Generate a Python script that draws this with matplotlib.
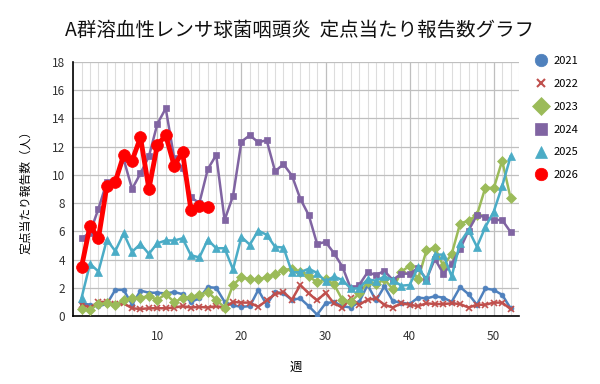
import numpy as np
import matplotlib
matplotlib.use("Agg")
import matplotlib.pyplot as plt
from matplotlib.lines import Line2D
from matplotlib.ticker import MultipleLocator

plt.rcParams['font.family'] = ['Noto Sans CJK JP', 'DejaVu Sans']

# DATA (週ごとの定点当たり報告数)
y2021 = [0.9, 0.8, 0.7, 0.85, 1.85, 1.85, 0.8, 1.8, 1.65, 1.65, 1.6, 1.7, 1.55, 1.0, 1.25, 2.05, 2.0,
         1.0, 0.75, 0.65, 0.7, 1.85, 0.8, 1.7, 1.6, 1.15, 1.25, 0.7, 0.1, 0.9, 1.0, 0.7, 0.6,
         1.0, 2.2, 1.1, 2.1, 1.05, 0.95, 0.85, 1.3, 1.25, 1.4, 1.3, 1.0, 2.05, 1.55, 0.8, 1.95, 1.85, 1.5, 0.55]
y2022 = [0.8, 0.6, 1.0, 1.0, 0.85, 0.9, 0.55, 0.5, 0.55, 0.55, 0.55, 0.6, 0.7, 0.6, 0.65, 0.6, 0.7,
         0.6, 1.0, 0.95, 0.95, 0.65, 1.1, 1.55, 1.7, 1.15, 2.2, 1.6, 1.1, 1.65, 0.9, 0.6, 1.25,
         0.8, 1.15, 1.25, 0.8, 0.6, 0.9, 0.8, 0.7, 0.9, 0.85, 0.85, 0.9, 0.85, 0.6, 0.8, 0.8, 0.95, 0.95, 0.5]
y2023 = [0.5, 0.45, 0.85, 0.9, 0.8, 1.1, 1.25, 1.3, 1.4, 1.15, 1.55, 1.0, 1.25, 1.35, 1.5, 1.7, 1.15,
         0.6, 2.2, 2.75, 2.6, 2.6, 2.75, 2.95, 3.25, 3.35, 3.1, 2.8, 2.4, 2.6, 2.25, 1.15, 1.0,
         1.6, 2.4, 2.25, 2.6, 1.9, 3.15, 3.55, 2.6, 4.65, 4.85, 3.55, 4.4, 6.55, 6.75, 7.15, 9.1, 9.05, 11.0, 8.35]
y2024 = [5.5, 5.9, 7.6, 9.5, 9.55, 11.1, 9.0, 10.1, 11.3, 13.6, 14.7, 11.2, 10.5, 8.4, 8.0, 10.4, 11.4,
         6.8, 8.5, 12.35, 12.8, 12.3, 12.45, 10.25, 10.75, 9.95, 8.3, 7.15, 5.1, 5.25, 4.45, 3.5, 1.95,
         2.2, 3.1, 2.9, 3.2, 2.55, 3.0, 3.0, 3.4, 2.6, 4.05, 3.0, 3.7, 4.75, 6.05, 7.15, 7.0, 6.8, 6.8, 5.95]
y2025 = [1.3, 3.7, 3.15, 5.4, 4.6, 5.85, 4.55, 5.1, 4.4, 5.15, 5.35, 5.35, 5.5, 4.3, 4.15, 5.4, 4.8,
         4.8, 3.3, 5.6, 5.05, 6.05, 5.75, 4.9, 4.85, 3.1, 3.1, 3.35, 3.05, 2.45, 2.8, 2.55, 1.95,
         1.95, 2.6, 2.5, 2.8, 2.55, 2.15, 2.2, 3.45, 2.55, 4.35, 4.35, 2.8, 5.2, 6.1, 4.9, 6.3, 7.4, 9.2, 11.3]
y2026 = [3.5, 6.4, 5.5, 9.2, 9.5, 11.4, 11.0, 12.65, 9.0, 12.1, 12.8, 10.65, 11.6, 7.5, 7.8, 7.7]

years = ['2021', '2022', '2023', '2024', '2025', '2026']
series = [y2021, y2022, y2023, y2024, y2025, y2026]
colors = ['#4F81BD', '#C0504D', '#9BBB59', '#8064A2', '#4BACC6', '#FF0000']
markers = ['o', 'x', 'D', 's', '^', 'o']
msizes = [3.5, 4, 5.5, 5, 6, 8.5]
lwidths = [1.8, 1.8, 1.8, 1.8, 1.8, 3.5]

fig = plt.figure(figsize=(6, 3.84), dpi=100)
ax = fig.add_axes([0.122, 0.177, 0.743, 0.662])

for name, vals, c, m, ms, lw in zip(years, series, colors, markers, msizes, lwidths):
    weeks = np.arange(1, len(vals) + 1)
    ax.plot(weeks, vals, color=c, marker=m, markersize=ms, linewidth=lw,
            markeredgewidth=1.2 if m == 'x' else 0.5, markeredgecolor=c, zorder=3)

ax.set_xlim(0, 53)
ax.set_ylim(0, 18)
ax.set_xticks([10, 20, 30, 40, 50])
ax.xaxis.set_minor_locator(MultipleLocator(1))
ax.yaxis.set_major_locator(MultipleLocator(2))
ax.grid(which='major', axis='both', color='#BFBFBF', linewidth=0.9, zorder=0)
ax.grid(which='minor', axis='x', color='#DDDDDD', linewidth=0.8, zorder=0)
ax.set_axisbelow(True)
ax.tick_params(which='both', length=0)
ax.tick_params(axis='x', pad=10, labelsize=8.5, colors='#333333')
ax.tick_params(axis='y', pad=6, labelsize=8.5, colors='#333333')
for s in ['top', 'right']:
    ax.spines[s].set_visible(False)
for s in ['left', 'bottom']:
    ax.spines[s].set_color('black')
    ax.spines[s].set_linewidth(1.2)

ax.set_xlabel('週', fontsize=9, labelpad=13)
ax.set_ylabel('定点当たり報告数（人）', fontsize=8.5, labelpad=14)
fig.text(0.5, 0.922, 'A群溶血性レンサ球菌咽頭炎  定点当たり報告数グラフ',
         ha='center', va='center', fontsize=14, color='#111111')

handles = [Line2D([], [], color=c, marker=m, linestyle='none',
                  markersize=9 if m != 'x' else 6, markeredgewidth=1.5 if m == 'x' else 0.5)
           for c, m in zip(colors, markers)]
fig.legend(handles, years, loc='upper left', bbox_to_anchor=(0.885, 0.865),
           frameon=False, fontsize=8, labelspacing=1.15, handlelength=1.0,
           handletextpad=0.6, borderaxespad=0)

fig.savefig('out.png', dpi=100)
